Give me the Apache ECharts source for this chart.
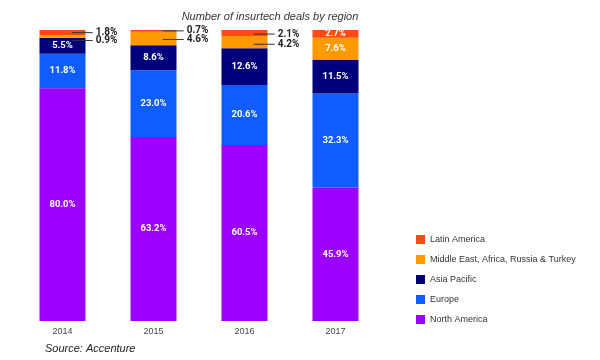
<!DOCTYPE html>
<html><head><meta charset="utf-8">
<script src="https://cdn.jsdelivr.net/npm/echarts@6/dist/echarts.min.js"></script>
<style>html,body{margin:0;padding:0;background:#fff}#c{width:600px;height:360px}</style>
</head><body><div id="c"></div>
<script>
const years = ['2014', '2015', '2016', '2017'];
const northAmerica = [80.0, 63.2, 60.5, 45.9];
const europe = [11.8, 23.0, 20.6, 32.3];
const asiaPacific = [5.5, 8.6, 12.6, 11.5];
const middleEast = [0.9, 4.6, 4.2, 7.6];
const latinAmerica = [1.8, 0.7, 2.1, 2.7];
const seriesNames = ['North America', 'Europe', 'Asia Pacific', 'Middle East, Africa, Russia & Turkey', 'Latin America'];

const colors = ['#9c00ff', '#0f5cff', '#00007c', '#ff9900', '#ff4a14'];
const allValues = [northAmerica, europe, asiaPacific, middleEast, latinAmerica];
// outside labels (with leader line) for the small top segments of 2014-2016; value: vertical offset
const outside = {
  3: {0: 4, 1: 1, 2: 2},
  4: {0: 0, 1: 0, 2: 1}
};

const series = allValues.map((vals, si) => ({
  name: seriesNames[si],
  type: 'bar',
  stack: 'total',
  barWidth: 46,
  itemStyle: {color: colors[si]},
  data: vals.map((v, i) => {
    const item = {value: v};
    if (outside[si] && outside[si][i] !== undefined) {
      item.label = {
        show: true,
        position: ['70%', '50%'],
        offset: [0, outside[si][i]],
        align: 'left',
        verticalAlign: 'middle',
        color: '#222',
        formatter: p => '{ln|}{t|' + p.value.toFixed(1) + '%}',
        rich: {
          ln: {width: 21, height: 1, backgroundColor: '#333'},
          t: {color: '#222', fontWeight: 'bold', fontSize: 10, fontFamily: 'Roboto', padding: [0, 0, 0, 3]}
        }
      };
    }
    return item;
  }),
  label: {
    show: true,
    position: 'inside',
    color: '#fff',
    fontWeight: 'bold',
    fontSize: 9.5,
    fontFamily: 'Roboto',
    formatter: p => p.value.toFixed(1) + '%'
  }
}));

const chart = echarts.init(document.getElementById('c'), null, {renderer: 'canvas'});
chart.setOption({
  animation: false,
  title: [
    {text: 'Number of insurtech deals by region', left: 265, textAlign: 'center', top: 6,
     textStyle: {fontSize: 11, fontStyle: 'italic', fontWeight: 'normal', color: '#333', fontFamily: 'Liberation Sans'}},
    {text: 'Source: Accenture', left: 40, top: 338,
     textStyle: {fontSize: 11, fontStyle: 'italic', fontWeight: 'normal', color: '#222', fontFamily: 'Liberation Sans'}}
  ],
  legend: {
    orient: 'vertical', left: 411, top: 230,
    itemWidth: 9, itemHeight: 9, itemGap: 11,
    icon: 'rect',
    data: seriesNames.slice().reverse(),
    textStyle: {fontSize: 9, color: '#333', fontFamily: 'Liberation Sans'}
  },
  grid: {left: 17, right: 219, top: 30, bottom: 39},
  xAxis: {
    type: 'category', data: years,
    axisLine: {show: false}, axisTick: {show: false},
    axisLabel: {fontSize: 9, color: '#444', margin: 6, fontFamily: 'Liberation Sans'}
  },
  yAxis: {type: 'value', min: 0, max: 100, show: false, splitLine: {show: false}},
  series: series
});
</script></body></html>
